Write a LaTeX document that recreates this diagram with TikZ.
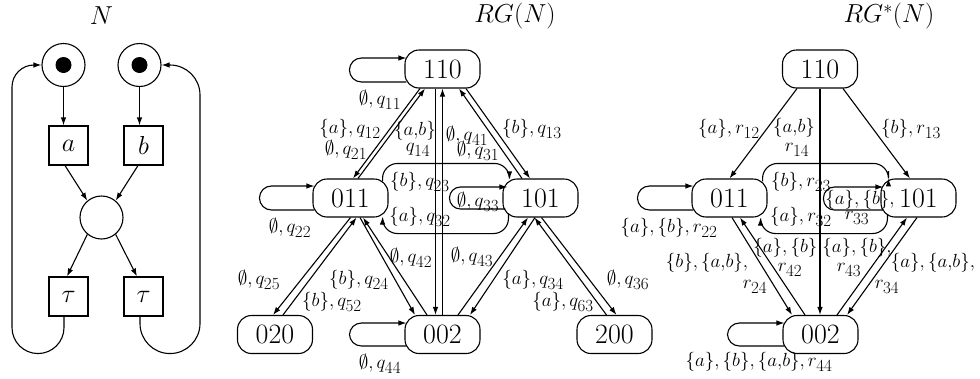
\RequirePackage{fix-cm}
\documentclass[tikz,border=0pt]{standalone}
\usetikzlibrary{arrows.meta,calc}
\DeclareMathSizes{19}{19}{17}{12}
\tikzset{
  >={Latex[length=8pt,width=5.5pt]},
  state/.style={draw, rectangle, rounded corners=14pt, minimum width=75pt,
    minimum height=38pt, inner sep=0pt, font=\fontsize{28}{30}\selectfont},
  place/.style={draw, circle, minimum size=43pt, inner sep=0pt},
  token/.style={fill, circle, minimum size=16pt, inner sep=0pt},
  trans/.style={draw, rectangle, minimum size=39pt, inner sep=0pt,
    font=\fontsize{26}{28}\selectfont},
  lab/.style={inner sep=0pt, font=\fontsize{19}{21}\selectfont},
  ttl/.style={inner sep=0pt, font=\fontsize{26}{28}\selectfont},
}
\begin{document}
\begin{tikzpicture}[x=1pt, y=-1pt, line width=1.1pt]
\useasboundingbox (0,0) rectangle (980,378);

% ---------------- the net N ----------------
\node[ttl] (tN) at (101.5,16) {$N$};
\node[place] (p1) at (63.5,65) {};
\node[token] (k1) at (p1) {};
\node[place] (p2) at (139.5,65) {};
\node[token] (k2) at (p2) {};
\node[trans] (ta) at (68.5,145.5) {$a$};
\node[trans] (tb) at (143.5,145.5) {$b$};
\node[place] (pm) at (101.5,217.5) {};
\node[trans] (t1) at (68.5,296.5) {$\tau$};
\node[trans] (t2) at (143.5,296.5) {$\tau$};

\draw[->] (p1.south) -- (p1.south |- ta.north);
\draw[->] (p2.south) -- (p2.south |- tb.north);
\draw[->] ([xshift=-3.5pt]ta.south) -- (pm.130);
\draw[->] ([xshift=-5.5pt]tb.south) -- (pm.50);
\draw[->] (pm.-130) -- ([xshift=-1.5pt]t1.north);
\draw[->] (pm.-50) -- ([xshift=-6.5pt]t2.north);
\draw[->, rounded corners=26pt] ([xshift=-4.5pt]t1.south) -- ++(0,37) -- ++(-52,0)
  [rounded corners=22pt] |- (p1.west);
\draw[->, rounded corners=30pt] ([xshift=-3.5pt]t2.south) -- ++(0,37) -- ++(60,0)
  [rounded corners=30pt] |- (p2.east);

% ---------------- reachability graph RG(N) ----------------
\node[ttl] (tRG) at (515,16) {$RG(N)$};
\node[state] (A) at (442.5,69) {110};
\node[state] (B) at (350.5,198) {011};
\node[state] (C) at (540.5,198) {101};
\node[state] (D) at (275,334.5) {020};
\node[state] (E) at (442.5,334.5) {002};
\node[state] (F) at (614.5,334.5) {200};

% self loops
\draw[->, rounded corners=12pt] ($(A.west)+(2,13)$) -- ++(-57,0) -- ++(0,-24) -- ++(57,0);
\draw[->, rounded corners=12pt] ($(B.west)+(2,12)$) -- ++(-55,0) -- ++(0,-24) -- ++(55,0);
\draw[->, rounded corners=12pt] ($(E.west)+(2,11.5)$) -- ++(-57,0) -- ++(0,-23) -- ++(57,0);
\draw[->, rounded corners=11pt] ($(C.west)+(3,11)$) -- ++(-56,0) -- ++(0,-22) -- ++(58,0);
% arcs between 011 and 101
\draw[->, rounded corners=15pt] ($(B.north east)+(-6,3)$) -- ++(0,-18) -| ($(C.north west)+(7,1)$);
\draw[->, rounded corners=15pt] ($(C.south west)+(6,-4)$) -- ++(0,20) -| ($(B.south east)+(-6,-1)$);
% straight arcs
\draw[->] ([xshift=-22.5pt]A.south) -- ([xshift=2.5pt]B.north);
\draw[->] ([xshift=7.5pt]B.north) -- ([xshift=-17.5pt]A.south);
\draw[->] ([xshift=23.5pt]A.south) -- ([xshift=-10.5pt]C.north);
\draw[->] ([xshift=-18.5pt]C.north) -- ([xshift=16.5pt]A.south);
\draw[->] ([xshift=-7pt]A.south) -- ([xshift=-7pt]E.north);
\draw[->] (E.north) -- (A.south);
\draw[->] (B.south) -- ([xshift=-2pt]D.north);
\draw[->] ([xshift=8pt]D.north) -- ([xshift=6pt]B.south);
\draw[->] ([xshift=9.5pt]B.south) -- ([xshift=-27.5pt]E.north);
\draw[->] ([xshift=-15.5pt]E.north) -- ([xshift=12.5pt]B.south);
\draw[->] ([xshift=15.5pt]E.north) -- ([xshift=-12.5pt]C.south);
\draw[->] ([xshift=-5.5pt]C.south) -- ([xshift=27.5pt]E.north);
\draw[->] ([xshift=-8pt]F.north) -- ([xshift=-6pt]C.south);
\draw[->] ([xshift=1pt]C.south) -- ([xshift=2pt]F.north);

% labels
\node[lab] (q11) at (380,100) {$\emptyset,q_{11}$};
\node[lab] (q22) at (290,228) {$\emptyset,q_{22}$};
\node[lab] (q44) at (380,364) {$\emptyset,q_{44}$};
\node[lab] (q33) at (478,202) {$\emptyset,q_{33}$};
\node[lab] (q12) at (350,129) {$\{a\},q_{12}$};
\node[lab] (q21) at (346,150) {$\emptyset,q_{21}$};
\node[lab] (q14a) at (415,131) {$\{a{,}b\}$};
\node[lab] (q14b) at (418,150) {$q_{14}$};
\node[lab] (q41) at (467,136) {$\emptyset,q_{41}$};
\node[lab] (q31) at (478,151) {$\emptyset,q_{31}$};
\node[lab] (q13) at (532,129) {$\{b\},q_{13}$};
\node[lab] (q23) at (420,182) {$\{b\},q_{23}$};
\node[lab] (q32) at (420,217) {$\{a\},q_{32}$};
\node[lab] (q25) at (259,280) {$\emptyset,q_{25}$};
\node[lab] (q52) at (332,302) {$\{b\},q_{52}$};
\node[lab] (q24) at (359,280) {$\{b\},q_{24}$};
\node[lab] (q42) at (411,258) {$\emptyset,q_{42}$};
\node[lab] (q43) at (472,257) {$\emptyset,q_{43}$};
\node[lab] (q34) at (533,280) {$\{a\},q_{34}$};
\node[lab] (q63) at (563,302) {$\{a\},q_{63}$};
\node[lab] (q36) at (628,280) {$\emptyset,q_{36}$};

% ---------------- reduced graph RG*(N) ----------------
\node[ttl] (tRS) at (889,16) {$RG^*(N)$};
\node[state] (P) at (820,69) {110};
\node[state] (Q) at (729.5,198) {011};
\node[state] (R) at (918.5,198) {101};
\node[state] (S) at (820.5,334.5) {002};

\draw[->, rounded corners=12pt] ($(Q.west)+(2,12)$) -- ++(-56,0) -- ++(0,-24) -- ++(56,0);
\draw[->, rounded corners=12pt] ($(S.west)+(2,11.5)$) -- ++(-57,0) -- ++(0,-23) -- ++(57,0);
\draw[->, rounded corners=11pt] ($(R.west)+(3,12)$) -- ++(-60,0) -- ++(0,-23) -- ++(60,0);
\draw[->, rounded corners=15pt] ($(Q.north east)+(-5,3)$) -- ++(0,-18) -| ($(R.north west)+(8,0)$);
\draw[->, rounded corners=15pt] ($(R.south west)+(7,-3)$) -- ++(0,19) -| ($(Q.south east)+(-7,0)$);
\draw[->] ([xshift=-23pt]P.south) -- (Q.north);
\draw[->] ([xshift=23pt]P.south) -- ([xshift=-8.5pt]R.north);
\draw[->] (P.south) -- (P.south |- S.north);
\draw[->] ([xshift=2.5pt]Q.south) -- ([xshift=-28.5pt]S.north);
\draw[->] ([xshift=-15.5pt]S.north) -- ([xshift=10.5pt]Q.south);
\draw[->] ([xshift=16.5pt]S.north) -- ([xshift=-11.5pt]R.south);
\draw[->] ([xshift=-1.5pt]R.south) -- ([xshift=26.5pt]S.north);

\node[lab] (r22) at (669,228) {$\{a\},\{b\},r_{22}$};
\node[lab] (r44) at (759,362) {$\{a\},\{b\},\{a{,}b\},r_{44}$};
\node[lab] (r33a) at (860,200) {$\{a\},\{b\},$};
\node[lab] (r33b) at (857,218) {$r_{33}$};
\node[lab] (r12) at (729,129) {$\{a\},r_{12}$};
\node[lab] (r13) at (911,129) {$\{b\},r_{13}$};
\node[lab] (r14a) at (794,128) {$\{a{,}b\}$};
\node[lab] (r14b) at (797,150) {$r_{14}$};
\node[lab] (r23) at (801,182) {$\{b\},r_{23}$};
\node[lab] (r32) at (801,217) {$\{a\},r_{32}$};
\node[lab] (r24a) at (707,263) {$\{b\},\{a{,}b\},$};
\node[lab] (r24b) at (755,287) {$r_{24}$};
\node[lab] (r42a) at (788,248) {$\{a\},\{b\},$};
\node[lab] (r42b) at (790,270) {$r_{42}$};
\node[lab] (r43a) at (857,248) {$\{a\},\{b\},$};
\node[lab] (r43b) at (849,270) {$r_{43}$};
\node[lab] (r34a) at (933,263) {$\{a\},\{a{,}b\},$};
\node[lab] (r34b) at (887,287) {$r_{34}$};
\end{tikzpicture}
\end{document}
